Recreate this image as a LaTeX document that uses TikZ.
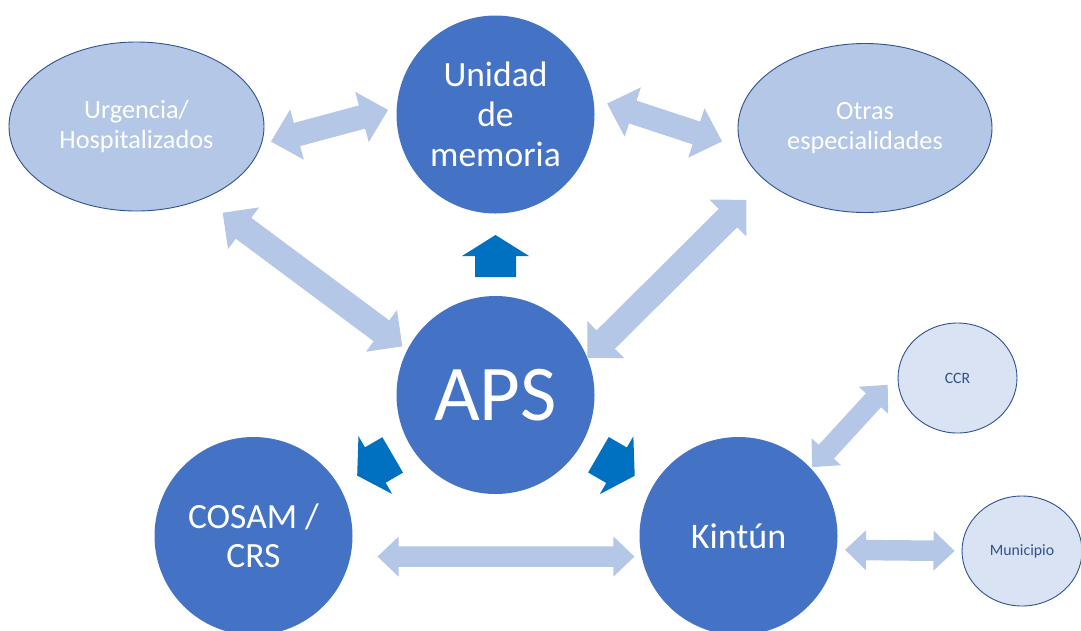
\documentclass[tikz,border=0pt]{standalone}
\usepackage{fontspec}
\setmainfont{Carlito}
\usetikzlibrary{calc,shapes.geometric}

\definecolor{accent}{HTML}{4472C4}
\definecolor{paleblue}{HTML}{B4C7E7}
\definecolor{palerblue}{HTML}{DAE3F3}
\definecolor{edgeblue}{HTML}{2F528F}
\definecolor{flowblue}{HTML}{0070C0}

\tikzset{
  hub/.style={circle, fill=accent, text=white, inner sep=0pt, outer sep=0pt,
    minimum size=198pt, align=center},
  service/.style={ellipse, fill=paleblue, draw=edgeblue, line width=0.9pt,
    text=white, inner sep=0pt, minimum width=255pt, minimum height=169pt,
    align=center, font=\fontsize{26.3}{30.5}\selectfont},
  partner/.style={ellipse, fill=palerblue, draw=edgeblue, line width=0.9pt,
    text=edgeblue, inner sep=0pt, minimum width=119pt, minimum height=110pt,
    font=\fontsize{15.8}{18}\selectfont},
  linkfill/.style={fill=paleblue},
  flowfill/.style={fill=flowblue},
}

% Two-headed block arrow between two node anchors.
% #1 anchor A, #2 gap at A, #3 anchor B, #4 gap at B,
% #5 half shaft width, #6 half head width, #7 head length
\newcommand\linkarrow[7]{%
  \path ($(#1)!#2!(#3)$) coordinate (la) ($(#3)!#4!(#1)$) coordinate (lb);
  \path ($(la)!#7!(lb)$) coordinate (lp) ($(lb)!#7!(la)$) coordinate (lq);
  \fill[linkfill] (la) -- ($(lp)!#6!90:(lb)$) -- ($(lp)!#5!90:(lb)$)
    -- ($(lq)!#5!-90:(la)$) -- ($(lq)!#6!-90:(la)$) -- (lb)
    -- ($(lq)!#6!90:(la)$) -- ($(lq)!#5!90:(la)$)
    -- ($(lp)!#5!-90:(lb)$) -- ($(lp)!#6!-90:(lb)$) -- cycle;
}

% One-headed block arrow from node #1 towards node #2.
% #3 gap at the tail, #4 gap at the tip
\newcommand\flowarrow[4]{%
  \path ($(#1)!#3!(#2)$) coordinate (fa) ($(#2)!#4!(#1)$) coordinate (fb);
  \path ($(fb)!21pt!(fa)$) coordinate (fq);
  \fill[flowfill] (fb) -- ($(fq)!33.5pt!90:(fb)$) -- ($(fq)!20.5pt!90:(fb)$)
    -- ($(fa)!20.5pt!90:(fb)$) -- ($(fa)!20.5pt!-90:(fb)$)
    -- ($(fq)!20.5pt!-90:(fb)$) -- ($(fq)!33.5pt!-90:(fb)$) -- cycle;
}

\begin{document}
\begin{tikzpicture}[x=1pt,y=-1pt]
\useasboundingbox (0,0) rectangle (1081,630);
\clip (0,0) rectangle (1081,630);

% services and centres
\node[service] (urg) at (136.5,126.5) {Urgencia/\\Hospitalizados};
\node[service, minimum width=254pt] (esp) at (865,128) {Otras\\especialidades};
\node[hub, font=\fontsize{35.5}{40}\selectfont] (mem) at (495.5,114.5) {Unidad\\de\\memoria};
\node[hub, font=\fontsize{79}{90}\selectfont] (aps) at (495.5,395) {APS};
\node[hub, font=\fontsize{35.5}{38.5}\selectfont] (cosam) at (253.5,536) {COSAM /\\CRS};
\node[hub, font=\fontsize{36}{40}\selectfont] (kin) at (738.5,536) {Kintún};
\node[partner] (ccr) at (957.5,378) {CCR};
\node[partner, minimum width=120pt] (mun) at (1022,551) {Municipio};

% two-way links
\linkarrow{urg.-8.7}{9.6pt}{mem.176}{9pt}{12pt}{26pt}{27pt}
\linkarrow{mem.9.4}{14.6pt}{esp.189.6}{20pt}{12pt}{26pt}{27pt}
\linkarrow{urg.-47.8}{23.5pt}{aps.153.4}{6.2pt}{13pt}{26pt}{26pt}
\linkarrow{esp.208.8}{26.7pt}{aps.22.6}{0pt}{13pt}{26pt}{26pt}
\linkarrow{cosam.-12.2}{27.2pt}{kin.192.2}{7.2pt}{10.25pt}{20pt}{21pt}
\linkarrow{kin.43.1}{1.8pt}{ccr.176.2}{14.9pt}{10.25pt}{20pt}{21pt}
\linkarrow{kin.-8.1}{8.5pt}{mun.180.5}{7pt}{10.25pt}{20pt}{21pt}

% referrals from APS
\flowarrow{aps.north}{mem.south}{19pt}{21.5pt}
\flowarrow{aps.center}{cosam.center}{119pt}{120pt}
\flowarrow{aps.center}{kin.center}{119pt}{120pt}
\end{tikzpicture}
\end{document}
